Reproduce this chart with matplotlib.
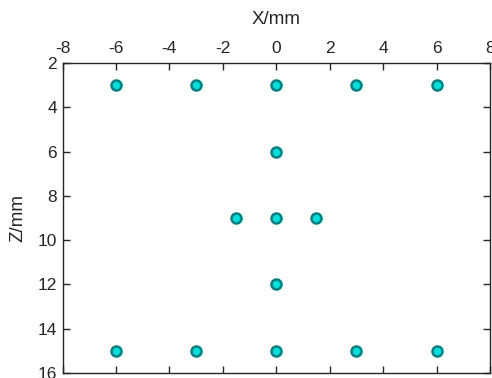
import matplotlib.pyplot as plt

plt.rcParams['font.family'] = ['Liberation Sans', 'DejaVu Sans']
plt.rcParams['axes.unicode_minus'] = False

# point positions (mm)
x_mm = [-6, -3, 0, 3, 6, 0, -1.5, 0, 1.5, 0, -6, -3, 0, 3, 6]
z_mm = [3, 3, 3, 3, 3, 6, 9, 9, 9, 12, 15, 15, 15, 15, 15]

x_ticks = [-8, -6, -4, -2, 0, 2, 4, 6, 8]
z_ticks = [2, 4, 6, 8, 10, 12, 14, 16]

dark = "#262626"

fig = plt.figure(figsize=(4.92, 3.78), dpi=100)
ax = fig.add_axes([62.5 / 492, 5 / 378, (490 - 62.5) / 492, (373 - 63) / 378])

ax.plot(x_mm, z_mm, linestyle="none", marker="o", markersize=7.2,
        markerfacecolor="#00dede", markeredgecolor="#007f7f",
        markeredgewidth=1.8, clip_on=False)

ax.set_xlim(-8, 8)
ax.set_ylim(16, 2)
ax.set_xticks(x_ticks)
ax.set_yticks(z_ticks)

ax.xaxis.tick_top()
ax.xaxis.set_label_position("top")
ax.tick_params(axis="both", which="both", direction="in", length=5,
               width=1, colors=dark, labelsize=12.5,
               top=True, bottom=True, left=True, right=True,
               labeltop=True, labelbottom=False, labelleft=True, labelright=False)
ax.tick_params(axis="x", pad=5)
ax.tick_params(axis="y", pad=4)

for side in ax.spines.values():
    side.set_color(dark)
    side.set_linewidth(1)

ax.set_xlabel("X/mm", fontsize=13.5, color=dark, labelpad=12)
ax.set_ylabel("Z/mm", fontsize=13.5, color=dark, labelpad=8)

fig.savefig("out.png", dpi=100)
